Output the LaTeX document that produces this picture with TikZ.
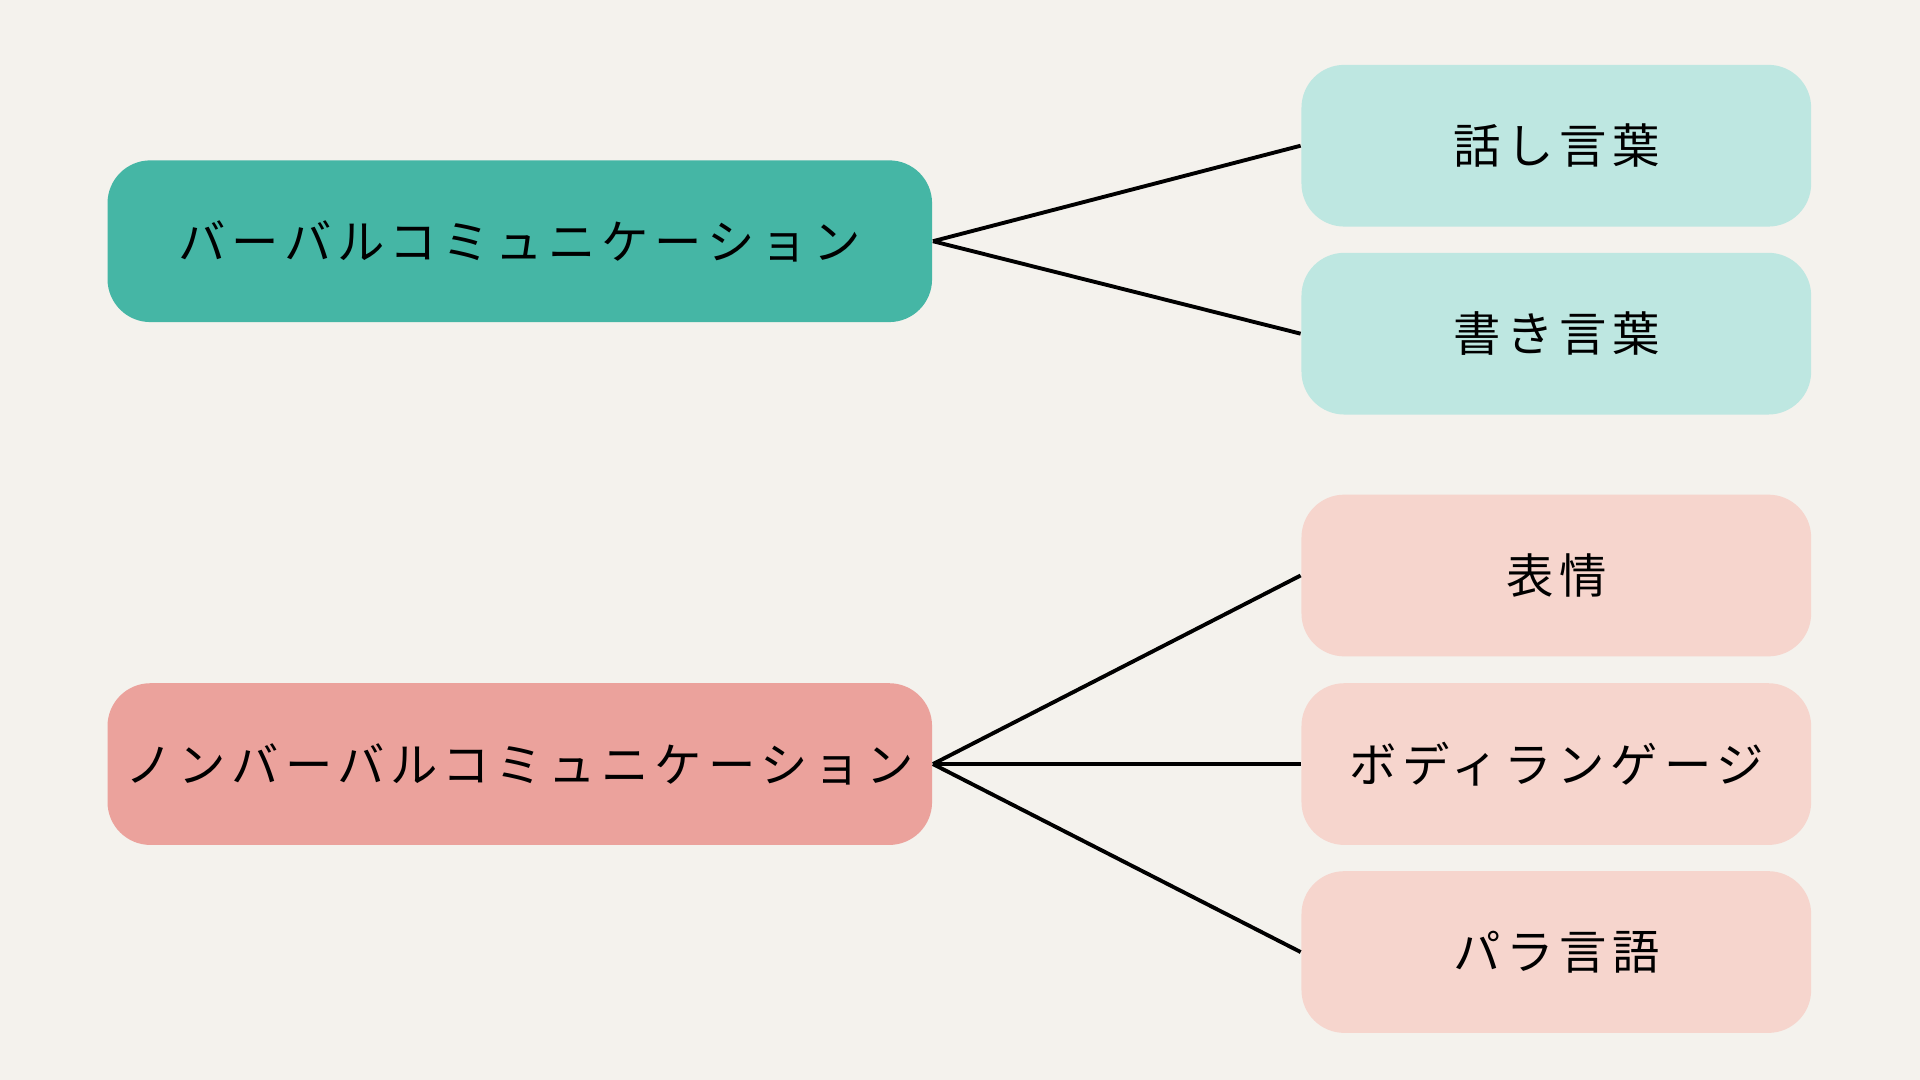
\documentclass[tikz,border=0pt]{standalone}
\usepackage{fontspec}
\newfontfamily\cjk[LetterSpace=12]{Noto Sans CJK JP}
\usetikzlibrary{positioning}
\definecolor{bgcol}{HTML}{F4F2ED}
\definecolor{verbcol}{HTML}{45B6A5}
\definecolor{verbsub}{HTML}{BEE7E1}
\definecolor{nonvcol}{HTML}{EBA29C}
\definecolor{nonvsub}{HTML}{F6D5CD}
\tikzset{
  box/.style={rounded corners=0.35cm,inner sep=0pt,font=\cjk\fontsize{11}{13}\selectfont,text=black},
  main/.style={box,minimum width=6.73cm,minimum height=1.32cm},
  sub/.style={box,minimum width=4.16cm,minimum height=1.32cm},
  link/.style={line width=0.9pt,black}
}
\begin{document}
\begin{tikzpicture}[x=0.01cm,y=-0.01cm]
\fill[bgcol] (0,0) rectangle (1568,882);
\node[main,fill=verbcol] (verbal) at (424.5,197) {バーバルコミュニケーション};
\node[main,fill=nonvcol] (nonverbal) at (424.5,624) {ノンバーバルコミュニケーション};
\node[sub,fill=verbsub] (speech) at (1271,119) {話し言葉};
\node[sub,fill=verbsub] (writing) at (1271,272.5) {書き言葉};
\node[sub,fill=nonvsub] (face) at (1271,470) {表情};
\node[sub,fill=nonvsub] (body) at (1271,624) {ボディランゲージ};
\node[sub,fill=nonvsub] (para) at (1271,777.5) {パラ言語};
\foreach \c in {speech,writing}
  \draw[link] (verbal.east) -- (\c.west);
\foreach \c in {face,body,para}
  \draw[link] (nonverbal.east) -- (\c.west);
\end{tikzpicture}
\end{document}
